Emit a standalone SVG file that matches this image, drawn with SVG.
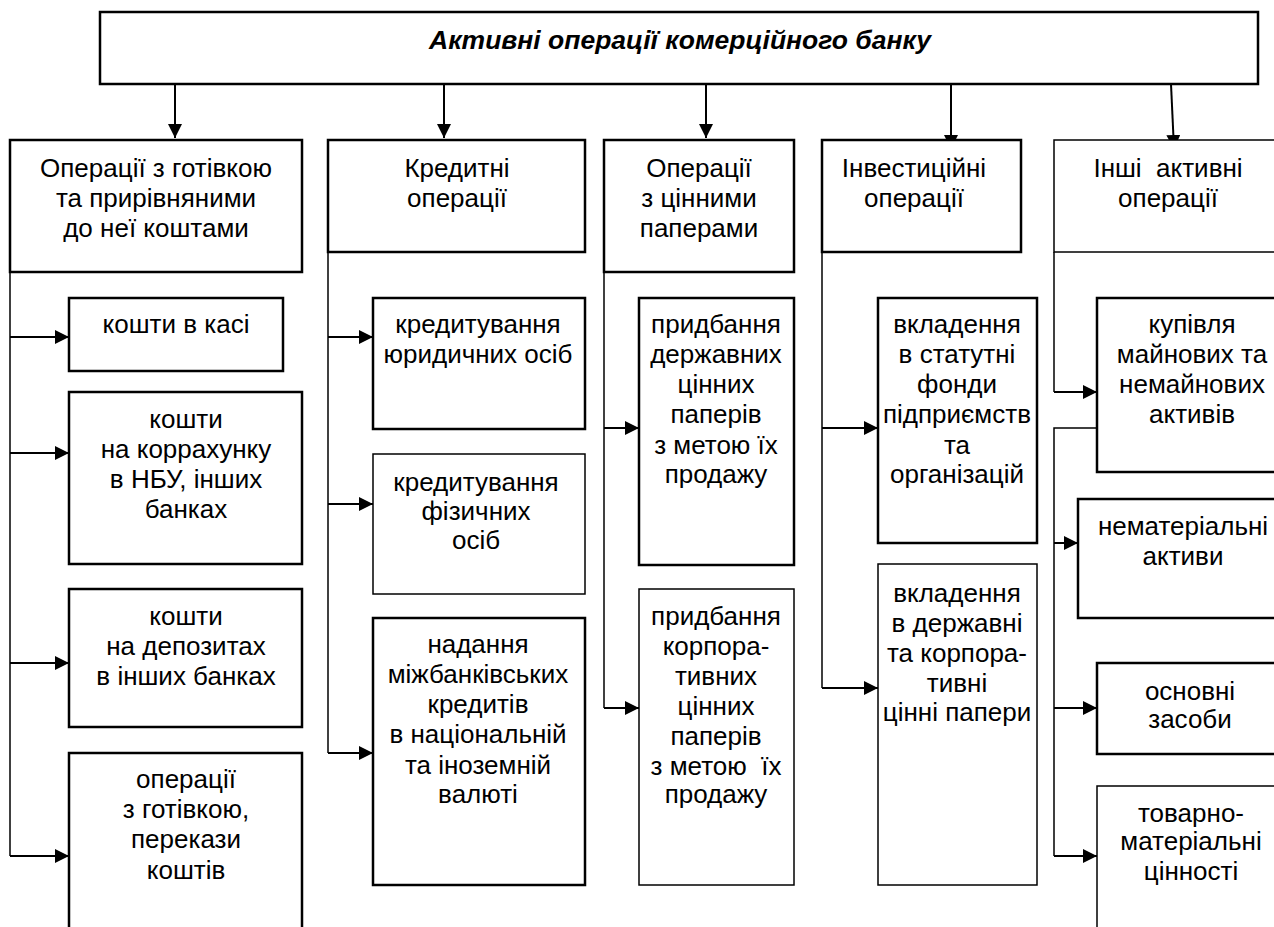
<svg xmlns="http://www.w3.org/2000/svg" width="1274" height="927" viewBox="0 0 1274 927">
<style>
.b{fill:#fff;stroke:#000;stroke-width:2.5}
.t{fill:#fff;stroke:#000;stroke-width:1.5}
text{font-family:"Liberation Sans",Arial,sans-serif;font-size:26px;fill:#000;text-anchor:middle}
.title{font-weight:bold;font-style:italic;font-size:26.5px}
.c{fill:none;stroke:#000;stroke-width:2}
.v{fill:none;stroke:#000;stroke-width:1.5}
</style>
<defs>
<marker id="ar" markerUnits="userSpaceOnUse" markerWidth="14" markerHeight="14" refX="14" refY="7" orient="auto">
<path d="M0,0 L14,7 L0,14 z" fill="#000"/>
</marker>
</defs>
<rect width="1274" height="927" fill="#fff"/>
<g id="connectors">
<path class="c" marker-end="url(#ar)" d="M175,84 V138"/>
<path class="c" marker-end="url(#ar)" d="M444,84 V138"/>
<path class="c" marker-end="url(#ar)" d="M706,84 V138"/>
<path class="c" marker-end="url(#ar)" d="M951,84 V149"/>
<path class="c" marker-end="url(#ar)" d="M1171,84 L1174,149"/>
<path class="v" d="M10,272 V856"/>
<path class="c" marker-end="url(#ar)" d="M10,337 H69"/>
<path class="c" marker-end="url(#ar)" d="M10,453 H69"/>
<path class="c" marker-end="url(#ar)" d="M10,663 H69"/>
<path class="c" marker-end="url(#ar)" d="M10,856 H69"/>
<path class="v" d="M328,252 V753"/>
<path class="c" marker-end="url(#ar)" d="M328,337 H373"/>
<path class="c" marker-end="url(#ar)" d="M328,504 H373"/>
<path class="c" marker-end="url(#ar)" d="M328,753 H373"/>
<path class="v" d="M604,272 V708"/>
<path class="c" marker-end="url(#ar)" d="M604,428 H639"/>
<path class="c" marker-end="url(#ar)" d="M604,708 H639"/>
<path class="v" d="M822,252 V688"/>
<path class="c" marker-end="url(#ar)" d="M822,428 H878"/>
<path class="c" marker-end="url(#ar)" d="M822,688 H878"/>
<path class="v" d="M1054,252 V392"/>
<path class="c" marker-end="url(#ar)" d="M1054,392 H1097"/>
<path class="v" d="M1097,428 H1054 V856"/>
<path class="c" marker-end="url(#ar)" d="M1054,543 H1078"/>
<path class="c" marker-end="url(#ar)" d="M1054,708 H1097"/>
<path class="c" marker-end="url(#ar)" d="M1054,856 H1097"/>
</g>
<g id="root">
<rect class="b" x="100" y="12" width="1158" height="72"/>
<text class="title" x="680" y="49">Активні операції комерційного банку</text>
</g>
<g id="cash">
<rect class="b" x="10" y="140" width="292" height="132"/>
<text x="156" y="177">Операції з готівкою</text>
<text x="156" y="207">та прирівняними</text>
<text x="156" y="237">до неї коштами</text>
</g>
<g id="credit">
<rect class="b" x="328" y="140" width="257" height="112"/>
<text x="457" y="177">Кредитні</text>
<text x="457" y="207">операції</text>
</g>
<g id="securities">
<rect class="b" x="604" y="140" width="190" height="132"/>
<text x="699" y="177">Операції</text>
<text x="699" y="207">з цінними</text>
<text x="699" y="237">паперами</text>
</g>
<g id="invest">
<rect class="b" x="822" y="140" width="199" height="112"/>
<text x="914" y="177">Інвестиційні</text>
<text x="914" y="207">операції</text>
</g>
<g id="other">
<rect class="t" x="1054" y="140" width="240" height="112"/>
<text x="1168" y="177" xml:space="preserve">Інші  активні</text>
<text x="1168" y="207">операції</text>
</g>
<g id="c1">
<rect class="b" x="69" y="298" width="214" height="73"/>
<text x="176" y="333">кошти в касі</text>
</g>
<g id="c2">
<rect class="b" x="69" y="392" width="233" height="172"/>
<text x="186" y="428">кошти</text>
<text x="186" y="458">на коррахунку</text>
<text x="186" y="488">в НБУ, інших</text>
<text x="186" y="518">банках</text>
</g>
<g id="c3">
<rect class="b" x="69" y="589" width="233" height="138"/>
<text x="186" y="625">кошти</text>
<text x="186" y="655">на депозитах</text>
<text x="186" y="685">в інших банках</text>
</g>
<g id="c4">
<rect class="b" x="69" y="753" width="233" height="190"/>
<text x="186" y="788">операції</text>
<text x="186" y="818">з готівкою,</text>
<text x="186" y="848">перекази</text>
<text x="186" y="879">коштів</text>
</g>
<g id="k1">
<rect class="b" x="373" y="298" width="212" height="131"/>
<text x="478" y="333">кредитування</text>
<text x="478" y="363">юридичних осіб</text>
</g>
<g id="k2">
<rect class="t" x="373" y="454" width="212" height="140"/>
<text x="476" y="491">кредитування</text>
<text x="476" y="520">фізичних</text>
<text x="476" y="549">осіб</text>
</g>
<g id="k3">
<rect class="b" x="373" y="618" width="212" height="267"/>
<text x="478" y="653">надання</text>
<text x="478" y="683">міжбанківських</text>
<text x="478" y="713">кредитів</text>
<text x="478" y="743">в національній</text>
<text x="478" y="774">та іноземній</text>
<text x="478" y="803">валюті</text>
</g>
<g id="s1">
<rect class="b" x="639" y="298" width="155" height="267"/>
<text x="716" y="333">придбання</text>
<text x="716" y="363">державних</text>
<text x="716" y="393">цінних</text>
<text x="716" y="423">паперів</text>
<text x="716" y="454">з метою їх</text>
<text x="716" y="483">продажу</text>
</g>
<g id="s2">
<rect class="t" x="639" y="589" width="155" height="296"/>
<text x="716" y="625">придбання</text>
<text x="716" y="655">корпора-</text>
<text x="716" y="685">тивних</text>
<text x="716" y="715">цінних</text>
<text x="716" y="745">паперів</text>
<text x="716" y="775" xml:space="preserve">з метою  їх</text>
<text x="716" y="803">продажу</text>
</g>
<g id="i1">
<rect class="b" x="878" y="298" width="159" height="245"/>
<text x="957" y="333">вкладення</text>
<text x="957" y="363">в статутні</text>
<text x="957" y="393">фонди</text>
<text x="957" y="423">підприємств</text>
<text x="957" y="454">та</text>
<text x="957" y="483">організацій</text>
</g>
<g id="i2">
<rect class="t" x="878" y="564" width="159" height="321"/>
<text x="957" y="602">вкладення</text>
<text x="957" y="632">в державні</text>
<text x="957" y="662">та корпора-</text>
<text x="957" y="692">тивні</text>
<text x="957" y="721">цінні папери</text>
</g>
<g id="o1">
<rect class="b" x="1097" y="298" width="200" height="174"/>
<text x="1192" y="333">купівля</text>
<text x="1192" y="363">майнових та</text>
<text x="1192" y="393">немайнових</text>
<text x="1192" y="423">активів</text>
</g>
<g id="o2">
<rect class="b" x="1078" y="499" width="220" height="119"/>
<text x="1183" y="535">нематеріальні</text>
<text x="1183" y="565">активи</text>
</g>
<g id="o3">
<rect class="b" x="1097" y="663" width="200" height="91"/>
<text x="1190" y="700">основні</text>
<text x="1190" y="728">засоби</text>
</g>
<g id="o4">
<rect class="t" x="1097" y="786" width="200" height="160"/>
<text x="1191" y="822">товарно-</text>
<text x="1191" y="850">матеріальні</text>
<text x="1191" y="880">цінності</text>
</g>
</svg>
